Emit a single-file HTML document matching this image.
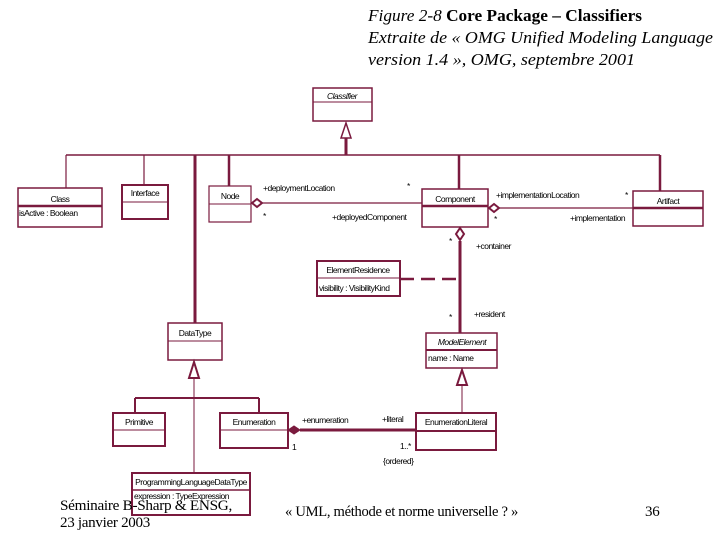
<!DOCTYPE html>
<html><head><meta charset="utf-8"><style>
html,body{margin:0;padding:0;background:#fff;width:720px;height:540px;overflow:hidden}
svg{display:block}
.h{font-family:"Liberation Serif",serif;font-size:17px}
.t{font-family:"Liberation Sans",sans-serif;font-size:8.5px;letter-spacing:-0.5px;fill:#000}
.f{font-family:"Liberation Serif",serif;font-size:15px;letter-spacing:-0.3px}
</style></head><body>
<svg width="720" height="540" viewBox="0 0 720 540" xmlns="http://www.w3.org/2000/svg">
<g fill="none" stroke="#7a1a3e">
<line x1="66" y1="155" x2="660" y2="155" stroke-width="1.5"/>
<line x1="346" y1="138" x2="346" y2="155" stroke-width="3"/>
<polygon points="346,123 341,138 351,138" fill="#fff" stroke-width="1.5"/>
<line x1="66" y1="155" x2="66" y2="188" stroke-width="1.2"/>
<line x1="144" y1="155" x2="144" y2="185" stroke-width="1.2"/>
<line x1="195" y1="155" x2="195" y2="323" stroke-width="3"/>
<line x1="229" y1="155" x2="229" y2="186" stroke-width="2.5"/>
<line x1="459" y1="155" x2="459" y2="189" stroke-width="2.5"/>
<line x1="660" y1="155" x2="660" y2="191" stroke-width="2.5"/>
<rect x="313" y="88" width="59" height="33" stroke-width="1.5"/><line x1="313" y1="102" x2="372" y2="102"/>
<rect x="18" y="188" width="84" height="39" stroke-width="1.5"/><line x1="18" y1="206" x2="102" y2="206" stroke-width="2.5"/>
<rect x="122" y="185" width="46" height="34" stroke-width="2"/><line x1="122" y1="202" x2="168" y2="202"/>
<rect x="209" y="186" width="42" height="36" stroke-width="1.2"/><line x1="209" y1="204" x2="251" y2="204"/>
<rect x="422" y="189" width="66" height="38" stroke-width="1.5"/><line x1="422" y1="206" x2="488" y2="206" stroke-width="2.5"/>
<rect x="633" y="191" width="70" height="35" stroke-width="1.5"/><line x1="633" y1="208" x2="703" y2="208" stroke-width="2.5"/>
<rect x="317" y="261" width="83" height="35" stroke-width="2"/><line x1="317" y1="278" x2="400" y2="278"/>
<rect x="426" y="333" width="71" height="35" stroke-width="1.5"/><line x1="426" y1="350" x2="497" y2="350" stroke-width="2"/>
<rect x="168" y="323" width="54" height="37" stroke-width="1.5"/><line x1="168" y1="341" x2="222" y2="341"/>
<rect x="113" y="413" width="52" height="33" stroke-width="2"/><line x1="113" y1="430" x2="165" y2="430"/>
<rect x="220" y="413" width="68" height="35" stroke-width="2"/><line x1="220" y1="430" x2="288" y2="430"/>
<rect x="416" y="413" width="80" height="37" stroke-width="2"/><line x1="416" y1="431" x2="496" y2="431" stroke-width="2"/>
<rect x="132" y="473" width="118" height="42" stroke-width="2"/><line x1="132" y1="490" x2="250" y2="490" stroke-width="1.5"/>
<line x1="262" y1="203" x2="422" y2="203" stroke-width="1.2"/>
<polygon points="252,203 257,199 262,203 257,207" fill="#fff" stroke-width="2"/>
<line x1="499" y1="208" x2="633" y2="208" stroke-width="1.2"/>
<polygon points="489,208 494,204 499,208 494,212" fill="#fff" stroke-width="2"/>
<line x1="460" y1="241" x2="460" y2="333" stroke-width="3"/>
<polygon points="460,228 464,234 460,240 456,234" fill="#fff" stroke-width="2"/>
<line x1="400" y1="279" x2="460" y2="279" stroke-width="2.5" stroke-dasharray="14,7"/>
<line x1="300" y1="430" x2="416" y2="430" stroke-width="3"/>
<polygon points="288,430 294,426 300,430 294,434" fill="#7a1a3e" stroke-width="1"/>
<polygon points="194,362 189,378 199,378" fill="#fff" stroke-width="2"/>
<line x1="194" y1="378" x2="194" y2="473" stroke-width="1"/>
<line x1="135" y1="398" x2="259" y2="398" stroke-width="2"/>
<line x1="135" y1="398" x2="135" y2="413" stroke-width="2"/>
<line x1="259" y1="398" x2="259" y2="413" stroke-width="2"/>
<line x1="462" y1="368" x2="462" y2="372" stroke-width="1"/>
<polygon points="462,370 457,385 467,385" fill="#fff" stroke-width="2"/>
<line x1="462" y1="385" x2="462" y2="413" stroke-width="1"/>
</g>
<g class="t">
<text x="342" y="99" text-anchor="middle" font-style="italic">Classifier</text>
<text x="60" y="202" text-anchor="middle">Class</text>
<text x="19" y="216">isActive : Boolean</text>
<text x="145" y="196" text-anchor="middle">Interface</text>
<text x="230" y="199" text-anchor="middle">Node</text>
<text x="455" y="202" text-anchor="middle">Component</text>
<text x="668" y="204" text-anchor="middle">Artifact</text>
<text x="358" y="273" text-anchor="middle">ElementResidence</text>
<text x="319" y="291">visibility : VisibilityKind</text>
<text x="462" y="345" text-anchor="middle" font-style="italic">ModelElement</text>
<text x="428" y="361">name : Name</text>
<text x="195" y="336" text-anchor="middle">DataType</text>
<text x="139" y="425" text-anchor="middle">Primitive</text>
<text x="254" y="425" text-anchor="middle">Enumeration</text>
<text x="456" y="425" text-anchor="middle">EnumerationLiteral</text>
<text x="191" y="485" text-anchor="middle">ProgrammingLanguageDataType</text>
<text x="134" y="499">expression : TypeExpression</text>
<text x="263" y="191">+deploymentLocation</text>
<text x="407" y="189">*</text>
<text x="263" y="219">*</text>
<text x="332" y="220">+deployedComponent</text>
<text x="496" y="198">+implementationLocation</text>
<text x="625" y="198">*</text>
<text x="494" y="222">*</text>
<text x="570" y="221">+implementation</text>
<text x="449" y="244">*</text>
<text x="476" y="249">+container</text>
<text x="449" y="320">*</text>
<text x="474" y="317">+resident</text>
<text x="302" y="423">+enumeration</text>
<text x="382" y="422">+literal</text>
<text x="292" y="450">1</text>
<text x="400" y="449">1..*</text>
<text x="383" y="464">{ordered}</text>
</g>
<text class="h" x="368" y="21" textLength="274" lengthAdjust="spacingAndGlyphs"><tspan font-style="italic">Figure 2-8</tspan> <tspan font-weight="bold">Core Package – Classifiers</tspan></text>
<text class="h" x="368" y="43" font-style="italic" textLength="345" lengthAdjust="spacingAndGlyphs">Extraite de « OMG Unified Modeling Language</text>
<text class="h" x="368" y="65" font-style="italic" textLength="267" lengthAdjust="spacingAndGlyphs">version 1.4 », OMG, septembre 2001</text>
<text class="f" x="60" y="510" textLength="172" lengthAdjust="spacingAndGlyphs">Séminaire B-Sharp &amp; ENSG,</text>
<text class="f" x="60" y="527" textLength="90" lengthAdjust="spacingAndGlyphs">23 janvier 2003</text>
<text class="f" x="285" y="516" textLength="233" lengthAdjust="spacingAndGlyphs">« UML, méthode et norme universelle ? »</text>
<text class="f" x="645" y="516">36</text>
</svg>
</body></html>
